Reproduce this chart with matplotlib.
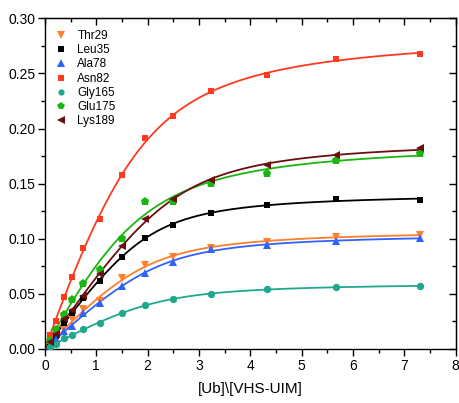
import numpy as np
import matplotlib
matplotlib.use("Agg")
import matplotlib.pyplot as plt
from matplotlib.ticker import MultipleLocator

plt.rcParams['font.family'] = ['Liberation Sans', 'DejaVu Sans']

# Titration points: molar ratio [Ub]/[VHS-UIM]
ratio = [0.10, 0.21, 0.37, 0.53, 0.75, 1.07, 1.50, 1.95, 2.49, 3.24, 4.33, 5.68, 7.30]

thr29 = [0.003, 0.008, 0.017, 0.027, 0.036, 0.0435, 0.0647, 0.0762, 0.0837, 0.0919, 0.0974, 0.1019, 0.1034]
leu35 = [0.006, 0.012, 0.024, 0.033, 0.0466, 0.062, 0.0837, 0.101, 0.1125, 0.1237, 0.1306, 0.136, 0.135]
ala78 = [0.004, 0.009, 0.0163, 0.021, 0.033, 0.0415, 0.0572, 0.0692, 0.0792, 0.0904, 0.0943, 0.0983, 0.1004]
asn82 = [0.0127, 0.0257, 0.047, 0.065, 0.092, 0.118, 0.158, 0.191, 0.211, 0.234, 0.249, 0.263, 0.268]
gly165 = [0.002, 0.0045, 0.0097, 0.0127, 0.018, 0.024, 0.0324, 0.0399, 0.0454, 0.0499, 0.054, 0.0565, 0.057]
glu175 = [0.008, 0.018, 0.032, 0.045, 0.060, 0.073, 0.101, 0.134, 0.134, 0.151, 0.160, 0.171, 0.1775]
lys189 = [0.006, 0.014, 0.027, 0.035, 0.048, 0.068, 0.093, 0.118, 0.136, 0.153, 0.167, 0.176, 0.182]

labels = ["Thr29", "Leu35", "Ala78", "Asn82", "Gly165", "Glu175", "Lys189"]
values = [thr29, leu35, ala78, asn82, gly165, glu175, lys189]
colors = ["#FF7F2A", "#000000", "#2F62FF", "#FF3A1F", "#1FA88E", "#19B60F", "#6A0E0E"]
markers = ["v", "s", "^", "s", "o", "p", "<"]
msizes = [6.0, 4.8, 6.0, 4.8, 5.3, 6.3, 6.0]


def binding(x, k, n):
    # quadratic binding isotherm with n ligand sites, normalised to 1
    x = x / n
    b = 1.0 + x + k
    return (b - np.sqrt(b * b - 4.0 * x)) / 2.0


def fit_curve(x, y):
    x = np.asarray(x)
    y = np.asarray(y)
    best = None
    for n in np.linspace(0.5, 4.0, 71):
        for k in np.logspace(-3, 1.0, 200):
            f = binding(x, k, n)
            a = np.dot(f, y) / np.dot(f, f)
            err = np.sum((a * f - y) ** 2)
            if best is None or err < best[0]:
                best = (err, k, n, a)
    return best[1:]


fig = plt.figure(figsize=(4.59, 4.03), dpi=100)
ax = fig.add_axes([0.098, 0.134, 0.8945, 0.8206])

xs = np.linspace(0, ratio[-1], 300)
for lab, y, c, m, s in zip(labels, values, colors, markers, msizes):
    k, n, a = fit_curve(ratio, y)
    ax.plot(xs, a * binding(xs, k, n), color=c, lw=1.3, zorder=2)
    ax.plot(ratio, y, linestyle="none", marker=m, color=c, ms=s,
            markeredgewidth=0, zorder=3, label=lab)

ax.set_xlim(0, 8)
ax.set_ylim(0, 0.30)
ax.xaxis.set_major_locator(MultipleLocator(1))
ax.xaxis.set_minor_locator(MultipleLocator(0.5))
ax.yaxis.set_major_locator(MultipleLocator(0.05))
ax.yaxis.set_minor_locator(MultipleLocator(0.025))
ax.yaxis.set_major_formatter(matplotlib.ticker.FormatStrFormatter('%.2f'))

ax.tick_params(which='both', direction='out', top=False, right=False,
               labelsize=10, width=1, colors='black', pad=2)
ax.tick_params(which='major', length=5)
ax.tick_params(which='minor', length=3)

# inward ticks on the top and right edges
axt = ax.secondary_xaxis('top')
axt.xaxis.set_major_locator(MultipleLocator(1))
axt.xaxis.set_minor_locator(MultipleLocator(0.5))
axt.tick_params(which='both', direction='in', labeltop=False, width=1)
axt.tick_params(which='major', length=5)
axt.tick_params(which='minor', length=3)
axr = ax.secondary_yaxis('right')
axr.yaxis.set_major_locator(MultipleLocator(0.05))
axr.yaxis.set_minor_locator(MultipleLocator(0.025))
axr.tick_params(which='both', direction='in', labelright=False, width=1)
axr.tick_params(which='major', length=5)
axr.tick_params(which='minor', length=3)

for sp in ax.spines.values():
    sp.set_linewidth(1)

ax.set_xlabel(r"[Ub]\[VHS-UIM]", fontsize=11, labelpad=7)

leg = ax.legend(loc='upper left', bbox_to_anchor=(-0.006, 1.004), frameon=False,
                fontsize=8.5, handlelength=1.0, handletextpad=0.85,
                labelspacing=0.19, borderpad=0.6, markerscale=0.85)

fig.savefig("out.png", dpi=100)
